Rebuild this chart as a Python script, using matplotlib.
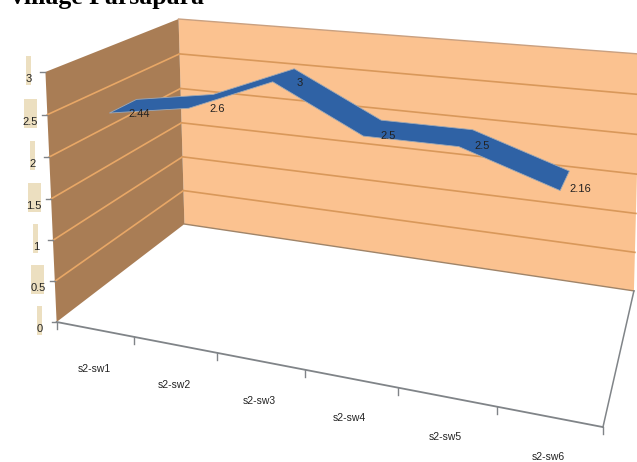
import numpy as np
import matplotlib
matplotlib.use('Agg')
import matplotlib.pyplot as plt
from matplotlib.patches import Polygon, Rectangle

# data
categories = ['s2-sw1', 's2-sw2', 's2-sw3', 's2-sw4', 's2-sw5', 's2-sw6']
values = [2.44, 2.6, 3, 2.5, 2.5, 2.16]
value_labels = ['2.44', '2.6', '3', '2.5', '2.5', '2.16']
z_ticks = [0, 0.5, 1, 1.5, 2, 2.5, 3]
z_labels = ['0', '0.5', '1', '1.5', '2', '2.5', '3']
title = 'village Parsapara'

W, H = 637, 462
Z_MAX = 3.0
SMALL_FONT = ['Liberation Sans Narrow', 'Liberation Sans']

# chart box corners in the picture: (x, depth, z) -> pixel, perspective camera is fitted on them
box = [
    ((0, 0, 0), (57, 322)),
    ((1, 0, 0), (603, 427)),
    ((1, 1, 0), (634, 291)),
    ((0, 1, 0), (184, 224)),
    ((0, 0, 1), (45, 72)),
    ((0, 1, 1), (179, 19)),
    ((1, 1, 1), (640, 54)),
]


def fit_camera(pairs):
    rows = []
    for (x, y, z), (u, v) in pairs:
        rows.append([x, y, z, 1, 0, 0, 0, 0, -u * x, -u * y, -u * z, -u])
        rows.append([0, 0, 0, 0, x, y, z, 1, -v * x, -v * y, -v * z, -v])
    _, _, vt = np.linalg.svd(np.array(rows, dtype=float))
    return vt[-1].reshape(3, 4)


cam = fit_camera(box)


def proj(x, d, z):
    p = cam @ np.array([x, d, z / Z_MAX, 1.0])
    return p[0] / p[2], p[1] / p[2]


fig = plt.figure(figsize=(W / 100, H / 100), dpi=100)
ax = fig.add_axes([0, 0, 1, 1])
ax.set_xlim(0, W)
ax.set_ylim(H, 0)
ax.axis('off')

# walls
left = [proj(0, 0, 0), proj(0, 1, 0), proj(0, 1, Z_MAX), proj(0, 0, Z_MAX)]
back = [proj(0, 1, 0), proj(1, 1, 0), proj(1, 1, Z_MAX), proj(0, 1, Z_MAX)]
ax.add_patch(Polygon(back, closed=True, fc='#fbc290', ec='none', zorder=1))
ax.add_patch(Polygon(left, closed=True, fc='#a97d55', ec='none', zorder=1))

for z in z_ticks[1:-1]:
    a, b, c = proj(0, 0, z), proj(0, 1, z), proj(1, 1, z)
    ax.plot([a[0], b[0]], [a[1], b[1]], color='#e8a766', lw=1.2, zorder=2)
    ax.plot([b[0], c[0]], [b[1], c[1]], color='#d9985a', lw=1.2, zorder=2)

a, b = proj(0, 1, Z_MAX), proj(1, 1, Z_MAX)
ax.plot([a[0], b[0]], [a[1], b[1]], color='#c9a080', lw=1, zorder=2)
a, b = proj(0, 1, 0), proj(1, 1, 0)
ax.plot([a[0], b[0]], [a[1], b[1]], color='#a08468', lw=1, zorder=2)

# floor edges
n = len(categories)
a, b, c = proj(0, 0, 0), proj(1, 0, 0), proj(1, 1, 0)
ax.plot([a[0], b[0]], [a[1], b[1]], color='#808488', lw=1.3, zorder=3)
ax.plot([b[0], c[0]], [b[1], c[1]], color='#808488', lw=1.1, zorder=3)
for i in range(n + 1):
    p = proj(i / n, 0, 0)
    ax.plot([p[0], p[0]], [p[1], p[1] + 7], color='#808488', lw=1, zorder=3)

# value ticks and labels, the scan left a tan smudge behind each one
for z, lab in zip(z_ticks, z_labels):
    p = proj(0, 0, z)
    ax.plot([p[0] - 5, p[0]], [p[1], p[1]], color='#808488', lw=1, zorder=3)
    cx = p[0] - 17
    w = 13 if len(lab) > 1 else 5
    ax.add_patch(Rectangle((cx - w / 2, p[1] - 16), w, 29, fc='#ecdfc0', ec='none', zorder=3))
    ax.text(cx, p[1] + 7, lab, fontsize=8, family=SMALL_FONT, ha='center', va='center',
            color='#222222', zorder=4)

# ribbon
D0, D1 = 0.15, 0.345
xs = [(i + 0.5) / n for i in range(n)]
front = [proj(x, D0, v) for x, v in zip(xs, values)]
rear = [proj(x, D1, v) for x, v in zip(xs, values)]
ax.add_patch(Polygon(front + rear[::-1], closed=True, fc='#2f62a5', ec='#9fa8b4', lw=0.6, zorder=5))

for f, r, lab in zip(front, rear, value_labels):
    ax.text((f[0] + r[0]) / 2 + 16, (f[1] + r[1]) / 2 + 8, lab, fontsize=8,
            family=SMALL_FONT, ha='center', va='center', color='#222222', zorder=6)

for i, lab in enumerate(categories):
    p = proj(xs[i], 0, 0)
    ax.text(p[0] - 1, p[1] + 40, lab, fontsize=7.5, family=SMALL_FONT,
            ha='center', va='center', color='#222222', zorder=6)

ax.text(11, 4, title, fontsize=18.5, family=['Liberation Serif'], fontweight='bold',
        ha='left', va='baseline', color='black', zorder=7)

fig.savefig('out.png', dpi=100)
